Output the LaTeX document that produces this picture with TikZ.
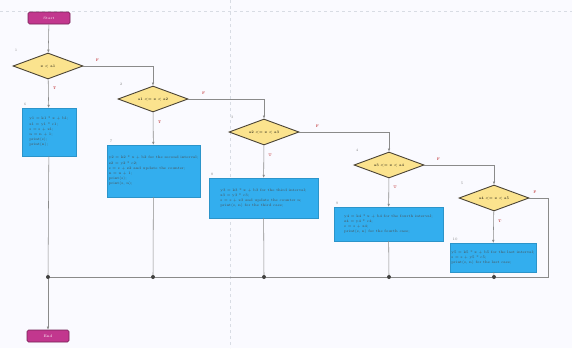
\documentclass[tikz,border=0pt]{standalone}
\usetikzlibrary{shapes.geometric,arrows.meta}
\definecolor{termfill}{HTML}{C2378E}
\definecolor{decfill}{HTML}{FBE38E}
\definecolor{decdraw}{HTML}{4A4335}
\definecolor{procfill}{HTML}{33AEEE}
\definecolor{linecol}{HTML}{8A8A8A}
\definecolor{guide}{HTML}{D8DCE4}
\begin{document}
\begin{tikzpicture}[x=1pt,y=-1pt,
  tiny/.style={font=\fontsize{3.6}{5.2}\selectfont},
  terminal/.style={rectangle,rounded corners=1.5pt,fill=termfill,draw=termfill!60!black,line width=0.6pt,
    minimum width=42pt,minimum height=12pt,inner sep=0pt,text=white,tiny},
  decision/.style={diamond,fill=decfill,draw=decdraw,line width=0.9pt,minimum width=70pt,
    minimum height=26pt,inner sep=0pt,aspect=2.7,tiny},
  procbox/.style={rectangle,fill=procfill,draw=procfill!85!black,line width=0.3pt,inner sep=1.5pt,
    align=left,tiny,text=black!70},
  conn/.style={draw=linecol,line width=0.55pt},
  arr/.style={conn,-{Latex[length=3pt,width=2.6pt]}},
  junc/.style={circle,fill=black!75,inner sep=0pt,minimum size=4pt},
  tf/.style={tiny,text=red!70!black},
  idx/.style={tiny,text=black!45}]
\useasboundingbox (0,0) rectangle (572,348);
\fill[white!98!blue] (0,0) rectangle (572,348);
% page guides
\draw[guide,dashed,line width=0.4pt] (0,11) -- (572,11);
\draw[guide,dashed,line width=0.4pt] (230,0) -- (230,348);

\node[terminal] (start) at (49,18) {Start};
\node[terminal] (end) at (48,336) {End};

\node[decision] (d1) at (48,66) {x \textless{} a1};
\node[decision] (d2) at (153,99) {a1 \textless{}= x \textless{} a2};
\node[decision] (d3) at (264,132) {a2 \textless{}= x \textless{} a3};
\node[decision] (d4) at (389,165) {a3 \textless{}= x \textless{} a4};
\node[decision] (d5) at (494,198) {a4 \textless{}= x \textless{} a5};

\node[procbox,minimum width=54pt,minimum height=48pt] (p1) at (49,132)
  {y1 = k1 * x + b1;\\z1 = y1 * c1;\\s = s + z1;\\n = n + 1;\\print(s);\\print(n);};
\node[procbox,minimum width=91pt,minimum height=52pt] (p2) at (153.5,171)
  {y2 = k2 * x + b2 for the second interval;\\z2 = y2 * c2;\\s = s + z2 and update the counter;\\n = n + 1;\\print(s);\\print(s, n);};
\node[procbox,minimum width=109pt,minimum height=40pt] (p3) at (263.5,198)
  {y3 = k3 * x + b3 for the third interval;\\z3 = y3 * c3;\\s = s + z3 and update the counter n;\\print(s, n) for the third case;};
\node[procbox,minimum width=109pt,minimum height=34pt] (p4) at (388.5,224)
  {y4 = k4 * x + b4 for the fourth interval;\\z4 = y4 * c4;\\s = s + z4;\\print(s, n) for the fourth case;};
\node[procbox,minimum width=82pt,minimum height=29pt] (p5) at (493,257.5)
  {y5 = k5 * x + b5 for the last interval;\\s = s + y5 * c5;\\print(s, n) for the last case;};

% small index labels
\node[idx] at (16,50) {1};
\node[idx] at (121,84) {2};
\node[idx] at (232,117) {3};
\node[idx] at (357,150) {4};
\node[idx] at (462,183) {5};
\node[idx] at (25,104) {6};
\node[idx] at (111,141) {7};
\node[idx] at (212,174) {8};
\node[idx] at (337,203) {9};
\node[idx] at (455,239) {10};

% junctions
\node[junc] (j1) at (48,277) {};
\node[junc] (j2) at (153,277) {};
\node[junc] (j3) at (264,277) {};
\node[junc] (j4) at (389,277) {};
\node[junc] (j5) at (494,277) {};
\coordinate (r5) at (548,198);
\coordinate (rb) at (548,277);

% connectors
\draw[arr] (start) -- (d1);
\draw[arr] (d1) -- node[tf,pos=0.3,right=1pt] {T} (p1);
\draw[arr] (d1.east) -| node[tf,pos=0.1,above=1pt] {F} (d2.north);
\draw[arr] (d2) -- node[tf,pos=0.3,right=1pt] {T} (p2);
\draw[arr] (d2.east) -| node[tf,pos=0.1,above=1pt] {F} (d3.north);
\draw[arr] (d3) -- node[tf,pos=0.3,right=1pt] {T} (p3);
\draw[arr] (d3.east) -| node[tf,pos=0.1,above=1pt] {F} (d4.north);
\draw[arr] (d4) -- node[tf,pos=0.3,right=1pt] {T} (p4);
\draw[arr] (d4.east) -| node[tf,pos=0.1,above=1pt] {F} (d5.north);
\draw[arr] (d5) -- node[tf,pos=0.3,right=1pt] {T} (p5);
\draw[conn] (d5.east) -- node[tf,pos=0.3,above=1pt] {F} (r5) -- (rb) -- (j5);
\draw[conn] (p1) -- (j1);
\draw[conn] (p2) -- (j2);
\draw[conn] (p3) -- (j3);
\draw[conn] (p4) -- (j4);
\draw[conn] (p5) -- (j5);
\draw[conn] (j5) -- (j4) -- (j3) -- (j2) -- (j1);
\draw[arr] (j1) -- (end);
\end{tikzpicture}
\end{document}
